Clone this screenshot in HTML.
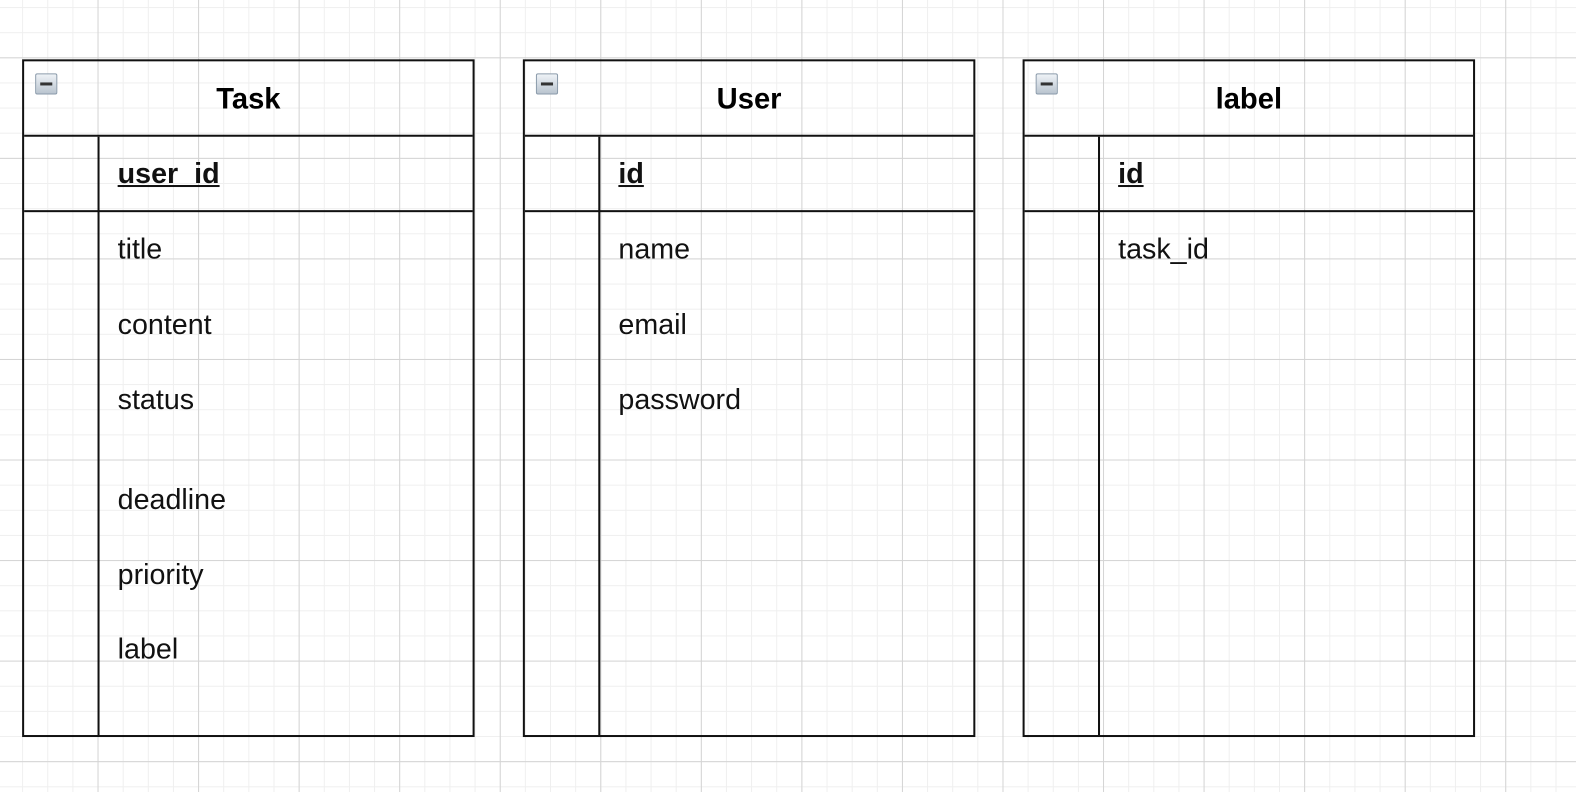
<!DOCTYPE html>
<html style="margin:0;padding:0;width:1576px;height:788px;overflow:hidden"><head><style>
body{margin:0;width:1576px;height:788px;overflow:hidden;background:#fff}
#w{position:absolute;left:0;top:0;width:1576px;height:788px;transform:scale(1.0055);transform-origin:0 0;background-color:#fff;
background-image:
linear-gradient(to right,#d4d4d4 1px,transparent 1px),
linear-gradient(to bottom,#d4d4d4 1px,transparent 1px),
linear-gradient(to right,#efefef 1px,transparent 1px),
linear-gradient(to bottom,#efefef 1px,transparent 1px);
background-size:100px 100px,100px 100px,25px 25px,25px 25px;
background-position:97px 57px,97px 57px,97px 57px,97px 57px;
font-family:"Liberation Sans",Arial,sans-serif}
*{box-sizing:border-box}
.t{position:absolute;top:59px;width:450px;height:674px;border:2px solid #111}
.h{position:absolute;left:0;top:0;width:100%;height:75px;border-bottom:2px solid #111;text-align:center;line-height:76px;font-weight:bold;font-size:29px}
.k{position:absolute;left:0;top:73px;width:100%;height:77px;border-bottom:2px solid #111}
.d{position:absolute;left:73px;top:75px;bottom:0;border-left:2px solid #111}
.ic{position:absolute;left:11px;top:12px;width:22px;height:21px;border:1px solid #8a9aaa;border-radius:2px;background:linear-gradient(#eef2f6,#b9c4cf)}
.ic:after{content:"";position:absolute;left:4px;top:8px;width:12px;height:3px;background:#333}
.f{position:absolute;font-size:28.5px;color:#111;white-space:nowrap}
.u{font-weight:bold;text-decoration:underline}
</style></head><body><div id="w">
<div class="t" style="left:22px"><div class="h">Task</div><div class="k"></div><div class="d"></div><div class="ic"></div>
<div class="f u" style="left:93px;top:96px">user_id</div>
<div class="f" style="left:93px;top:171px">title</div>
<div class="f" style="left:93px;top:246px">content</div>
<div class="f" style="left:93px;top:321px">status</div>
<div class="f" style="left:93px;top:420px">deadline</div>
<div class="f" style="left:93px;top:495px">priority</div>
<div class="f" style="left:93px;top:569px">label</div>
</div>
<div class="t" style="left:520px"><div class="h">User</div><div class="k"></div><div class="d"></div><div class="ic"></div>
<div class="f u" style="left:93px;top:96px">id</div>
<div class="f" style="left:93px;top:171px">name</div>
<div class="f" style="left:93px;top:246px">email</div>
<div class="f" style="left:93px;top:321px">password</div>
</div>
<div class="t" style="left:1017px"><div class="h">label</div><div class="k"></div><div class="d"></div><div class="ic"></div>
<div class="f u" style="left:93px;top:96px">id</div>
<div class="f" style="left:93px;top:171px">task_id</div>
</div>
</div></body></html>
